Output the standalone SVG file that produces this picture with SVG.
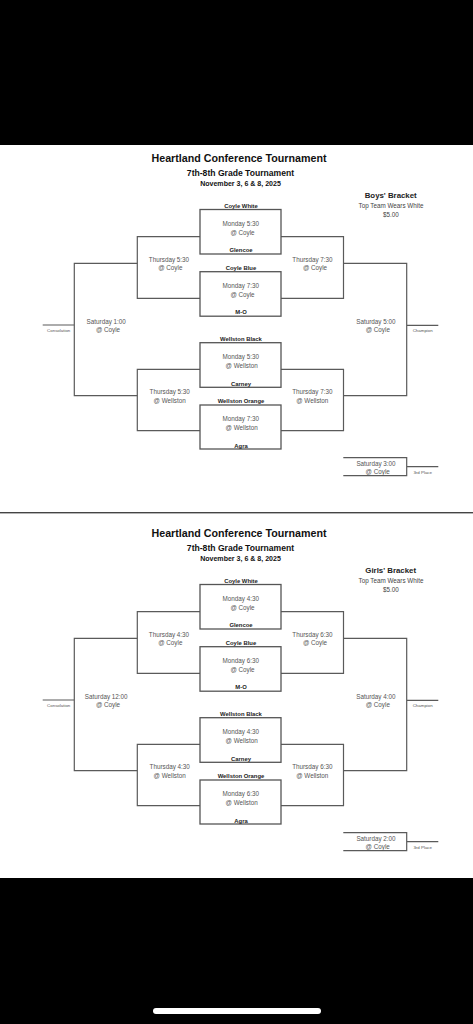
<svg xmlns="http://www.w3.org/2000/svg" width="473" height="1024" viewBox="0 0 473 1024">
<style>
text{font-family:"Liberation Sans",Arial,sans-serif;text-anchor:middle}
.t1{font-size:10.7px;font-weight:bold;fill:#111}
.t2{font-size:8.6px;font-weight:bold;fill:#111}
.t3{font-size:7.05px;font-weight:bold;fill:#111}
.bb{font-size:7.85px;font-weight:bold;fill:#222}
.tw{font-size:6.3px;fill:#444}
.g{font-size:6.3px;fill:#555}
.tm{font-size:5.9px;font-weight:bold;fill:#222}
.sm{font-size:4.4px;fill:#555}
.box{fill:#fff;stroke:#555;stroke-width:1.3}
.ln{fill:none;stroke:#5a5a5a;stroke-width:1.2}
</style>
<rect x="0" y="0" width="473" height="1024" fill="#000"/>
<rect x="0" y="145" width="473" height="733" fill="#fff"/>
<rect x="0" y="512" width="473" height="1.4" fill="#444"/>
<rect x="153" y="1008" width="168" height="6" rx="3" fill="#fff"/>

<!-- BOYS -->
<g id="boys">
<g id="boys-header">
<text class="t1" x="239" y="162">Heartland Conference Tournament</text>
<text class="t2" x="240.5" y="176">7th-8th Grade Tournament</text>
<text class="t3" x="240.5" y="185.5">November 3, 6 &amp; 8, 2025</text>
<text class="bb" x="390.7" y="198">Boys' Bracket</text>
<text class="tw" x="391" y="208">Top Team Wears White</text>
<text class="tw" x="391" y="216.5">$5.00</text>
</g>
<g id="boys-connectors">
<path class="ln" d="M200,236.7H137.3V298.3H200M281,236.7H343.5V298.3H281"/>
<path class="ln" d="M200,369.3H137.3V430.7H200M281,369.3H343.5V430.7H281"/>
<path class="ln" d="M137.3,263.3H74.3V395.7H137.3M74.3,325H42.7"/>
<path class="ln" d="M343.5,263.3H406.7V395.7H343.5M406.7,325.3H438.3"/>
<path class="ln" d="M343.3,457.7H406.7V475.7H343.3M406.7,466.7H438.3"/>
</g>
<g id="boys-m1">
<rect class="box" x="200" y="209.5" width="81" height="44.5"/>
<text class="tm" x="241" y="207.8">Coyle White</text>
<text class="g" x="240.7" y="226.3">Monday 5:30</text>
<text class="g" x="242.5" y="235">@ Coyle</text>
<text class="tm" x="241" y="252.4">Glencoe</text>
</g>
<g id="boys-m2">
<rect class="box" x="200" y="271.7" width="81" height="44.5"/>
<text class="tm" x="241" y="270.4">Coyle Blue</text>
<text class="g" x="240.7" y="288">Monday 7:30</text>
<text class="g" x="242.5" y="296.6">@ Coyle</text>
<text class="tm" x="241" y="314">M-O</text>
</g>
<g id="boys-m3">
<rect class="box" x="200" y="342.7" width="81" height="44.6"/>
<text class="tm" x="241" y="341.2">Wellston Black</text>
<text class="g" x="240.7" y="359">Monday 5:30</text>
<text class="g" x="241.7" y="367.6">@ Wellston</text>
<text class="tm" x="241" y="385.5">Carney</text>
</g>
<g id="boys-m4">
<rect class="box" x="200" y="405" width="81" height="44"/>
<text class="tm" x="241" y="403.2">Wellston Orange</text>
<text class="g" x="240.7" y="421.3">Monday 7:30</text>
<text class="g" x="241.7" y="430">@ Wellston</text>
<text class="tm" x="241" y="448">Agra</text>
</g>
<g id="boys-t1"><text class="g" x="169" y="261.5">Thursday 5:30</text><text class="g" x="170.3" y="270.3">@ Coyle</text></g>
<g id="boys-t2"><text class="g" x="312.5" y="261.5">Thursday 7:30</text><text class="g" x="315" y="270.3">@ Coyle</text></g>
<g id="boys-t3"><text class="g" x="169.7" y="394">Thursday 5:30</text><text class="g" x="169.7" y="403.3">@ Wellston</text></g>
<g id="boys-t4"><text class="g" x="312.3" y="394">Thursday 7:30</text><text class="g" x="312.3" y="403.3">@ Wellston</text></g>
<g id="boys-s1"><text class="g" x="106.2" y="323.5">Saturday 1:00</text><text class="g" x="108" y="332.3">@ Coyle</text></g>
<g id="boys-s2"><text class="g" x="375.8" y="323.5">Saturday 5:00</text><text class="g" x="377.8" y="332.3">@ Coyle</text></g>
<g id="boys-s3"><text class="g" x="376" y="465.6">Saturday 3:00</text><text class="g" x="377.7" y="474.3">@ Coyle</text></g>
<g id="boys-consolation"><text class="sm" x="58.7" y="332.2">Consolation</text></g>
<g id="boys-champion"><text class="sm" x="422.7" y="332.2">Champion</text></g>
<g id="boys-third"><text class="sm" x="422.7" y="474.2">3rd Place</text></g>
</g>

<!-- GIRLS -->
<g id="girls" transform="translate(0,375)">
<g id="girls-header">
<text class="t1" x="239" y="162">Heartland Conference Tournament</text>
<text class="t2" x="240.5" y="176">7th-8th Grade Tournament</text>
<text class="t3" x="240.5" y="185.5">November 3, 6 &amp; 8, 2025</text>
<text class="bb" x="390.7" y="198">Girls' Bracket</text>
<text class="tw" x="391" y="208">Top Team Wears White</text>
<text class="tw" x="391" y="216.5">$5.00</text>
</g>
<g id="girls-connectors">
<path class="ln" d="M200,236.7H137.3V298.3H200M281,236.7H343.5V298.3H281"/>
<path class="ln" d="M200,369.3H137.3V430.7H200M281,369.3H343.5V430.7H281"/>
<path class="ln" d="M137.3,263.3H74.3V395.7H137.3M74.3,325H42.7"/>
<path class="ln" d="M343.5,263.3H406.7V395.7H343.5M406.7,325.3H438.3"/>
<path class="ln" d="M343.3,457.7H406.7V475.7H343.3M406.7,466.7H438.3"/>
</g>
<g id="girls-m1">
<rect class="box" x="200" y="209.5" width="81" height="44.5"/>
<text class="tm" x="241" y="207.8">Coyle White</text>
<text class="g" x="240.7" y="226.3">Monday 4:30</text>
<text class="g" x="242.5" y="235">@ Coyle</text>
<text class="tm" x="241" y="252.4">Glencoe</text>
</g>
<g id="girls-m2">
<rect class="box" x="200" y="271.7" width="81" height="44.5"/>
<text class="tm" x="241" y="270.4">Coyle Blue</text>
<text class="g" x="240.7" y="288">Monday 6:30</text>
<text class="g" x="242.5" y="296.6">@ Coyle</text>
<text class="tm" x="241" y="314">M-O</text>
</g>
<g id="girls-m3">
<rect class="box" x="200" y="342.7" width="81" height="44.6"/>
<text class="tm" x="241" y="341.2">Wellston Black</text>
<text class="g" x="240.7" y="359">Monday 4:30</text>
<text class="g" x="241.7" y="367.6">@ Wellston</text>
<text class="tm" x="241" y="385.5">Carney</text>
</g>
<g id="girls-m4">
<rect class="box" x="200" y="405" width="81" height="44"/>
<text class="tm" x="241" y="403.2">Wellston Orange</text>
<text class="g" x="240.7" y="421.3">Monday 6:30</text>
<text class="g" x="241.7" y="430">@ Wellston</text>
<text class="tm" x="241" y="448">Agra</text>
</g>
<g id="girls-t1"><text class="g" x="169" y="261.5">Thursday 4:30</text><text class="g" x="170.3" y="270.3">@ Coyle</text></g>
<g id="girls-t2"><text class="g" x="312.5" y="261.5">Thursday 6:30</text><text class="g" x="315" y="270.3">@ Coyle</text></g>
<g id="girls-t3"><text class="g" x="169.7" y="394">Thursday 4:30</text><text class="g" x="169.7" y="403.3">@ Wellston</text></g>
<g id="girls-t4"><text class="g" x="312.3" y="394">Thursday 6:30</text><text class="g" x="312.3" y="403.3">@ Wellston</text></g>
<g id="girls-s1"><text class="g" x="106.2" y="323.5">Saturday 12:00</text><text class="g" x="108" y="332.3">@ Coyle</text></g>
<g id="girls-s2"><text class="g" x="375.8" y="323.5">Saturday 4:00</text><text class="g" x="377.8" y="332.3">@ Coyle</text></g>
<g id="girls-s3"><text class="g" x="376" y="465.6">Saturday 2:00</text><text class="g" x="377.7" y="474.3">@ Coyle</text></g>
<g id="girls-consolation"><text class="sm" x="58.7" y="332.2">Consolation</text></g>
<g id="girls-champion"><text class="sm" x="422.7" y="332.2">Champion</text></g>
<g id="girls-third"><text class="sm" x="422.7" y="474.2">3rd Place</text></g>
</g>
</svg>
